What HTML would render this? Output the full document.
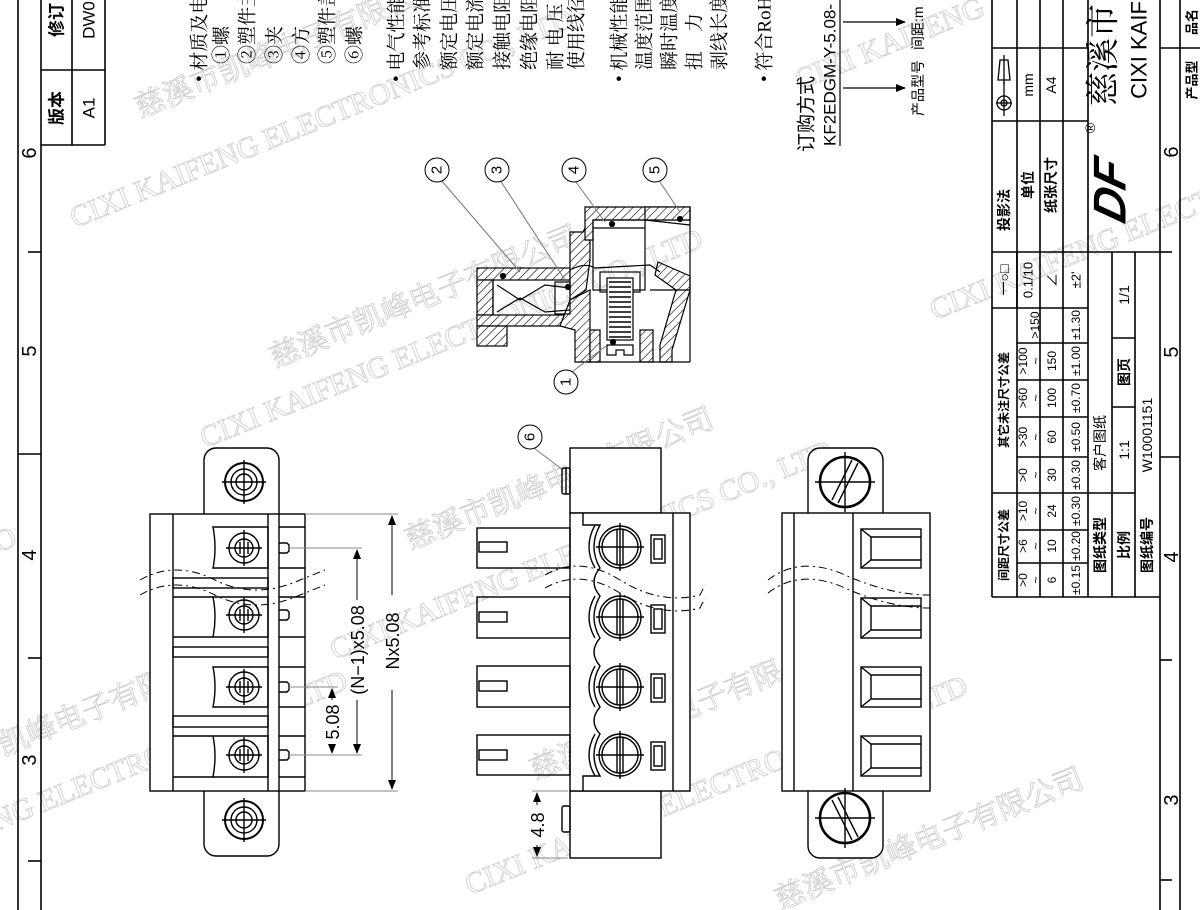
<!DOCTYPE html>
<html><head><meta charset="utf-8"><style>
html,body{margin:0;padding:0;background:#fff}
svg{display:block}
text{font-family:"Liberation Sans","Noto Sans CJK SC",sans-serif;fill:#000}
.s{font-family:"Liberation Serif","Noto Serif CJK SC",serif}
.wm{fill:none;stroke:#d2d2d2;stroke-width:0.9;font-size:30px;font-family:"Liberation Serif","Noto Serif CJK SC",serif}
</style></head><body>
<svg width="1200" height="910" viewBox="0 0 1200 910" xmlns="http://www.w3.org/2000/svg">
<defs>
<pattern id="h" width="6" height="6" patternUnits="userSpaceOnUse" patternTransform="rotate(45)">
<rect width="6" height="6" fill="#fff"/><line x1="0" y1="0" x2="0" y2="6" stroke="#000" stroke-width="1.2"/></pattern>
<marker id="ar" markerWidth="10" markerHeight="8" refX="9" refY="4" orient="auto" markerUnits="userSpaceOnUse"><path d="M0,0 L10,4 L0,8 z" fill="#000"/></marker>
</defs>

<!-- watermarks -->
<g>
<text class="wm" transform="translate(75,228) rotate(-22)">CIXI KAIFENG ELECTRONICS CO., LTD</text>
<text class="wm" transform="translate(140,118) rotate(-22)">慈溪市凯峰电子有限公司</text>
<text class="wm" transform="translate(275,368) rotate(-22)">慈溪市凯峰电子有限公司</text>
<text class="wm" transform="translate(205,448) rotate(-22)">CIXI KAIFENG ELECTRONICS CO., LTD</text>
<text class="wm" transform="translate(410,550) rotate(-22)">慈溪市凯峰电子有限公司</text>
<text class="wm" transform="translate(335,660) rotate(-22)">CIXI KAIFENG ELECTRONICS CO., LTD</text>
<text class="wm" transform="translate(535,780) rotate(-22)">慈溪市凯峰电子有限公司</text>
<text class="wm" transform="translate(470,895) rotate(-22)">CIXI KAIFENG ELECTRONICS CO., LTD</text>
<text class="wm" transform="translate(-150,890) rotate(-22)">CIXI KAIFENG ELECTRONICS CO., LTD</text>
<text class="wm" transform="translate(-80,790) rotate(-22)">慈溪市凯峰电子有限公司</text>
<text class="wm" transform="translate(935,320) rotate(-22)">CIXI KAIFENG ELECTRONICS</text>
<text class="wm" transform="translate(800,90) rotate(-22)">CIXI KAIFENG</text>
<text class="wm" transform="translate(780,910) rotate(-22)">慈溪市凯峰电子有限公司</text>
<text class="wm" transform="translate(-20,560) rotate(-22)">CO</text>
</g>

<!-- frame -->
<g stroke="#000" stroke-width="1.6" fill="none">
<line x1="18" y1="0" x2="18" y2="910"/>
<line x1="41" y1="0" x2="41" y2="910"/>
<line x1="18" y1="454" x2="41" y2="454"/>
<line x1="28" y1="252" x2="41" y2="252"/>
<line x1="28" y1="658" x2="41" y2="658"/>
<line x1="28" y1="861" x2="41" y2="861"/>
<line x1="1160" y1="0" x2="1160" y2="910"/>
<line x1="1180" y1="0" x2="1180" y2="910"/>
<line x1="1160" y1="48" x2="1180" y2="48"/>
<line x1="1160" y1="457" x2="1180" y2="457"/>
<line x1="1160" y1="252" x2="1172" y2="252"/>
<line x1="1160" y1="660" x2="1172" y2="660"/>
<line x1="1160" y1="880" x2="1172" y2="880"/>
<line x1="41" y1="145" x2="105" y2="145"/>
<line x1="72" y1="0" x2="72" y2="145"/>
<line x1="105" y1="0" x2="105" y2="145"/>
<line x1="41" y1="70" x2="105" y2="70"/>
</g>
<g font-size="20">
<text transform="translate(30,153) rotate(-90)" text-anchor="middle" dominant-baseline="central">6</text>
<text transform="translate(30,351) rotate(-90)" text-anchor="middle" dominant-baseline="central">5</text>
<text transform="translate(30,555) rotate(-90)" text-anchor="middle" dominant-baseline="central">4</text>
<text transform="translate(30,760) rotate(-90)" text-anchor="middle" dominant-baseline="central">3</text>
<text transform="translate(1172,152) rotate(-90)" text-anchor="middle" dominant-baseline="central">6</text>
<text transform="translate(1172,352) rotate(-90)" text-anchor="middle" dominant-baseline="central">5</text>
<text transform="translate(1172,557) rotate(-90)" text-anchor="middle" dominant-baseline="central">4</text>
<text transform="translate(1172,800) rotate(-90)" text-anchor="middle" dominant-baseline="central">3</text>
</g>
<g font-size="17">
<text transform="translate(57,108) rotate(-90)" text-anchor="middle" dominant-baseline="central" font-weight="bold">版本</text>
<text transform="translate(89,108) rotate(-90)" text-anchor="middle" dominant-baseline="central">A1</text>
<text transform="translate(57,20) rotate(-90)" text-anchor="middle" dominant-baseline="central" font-weight="bold">修订</text>
<text transform="translate(89,20) rotate(-90)" text-anchor="middle" dominant-baseline="central">DW0</text>
</g>

<!-- spec text -->
<g class="s" font-size="19">
<text class="s" transform="translate(200,82) rotate(-90)" dominant-baseline="central">• 材质及电</text>
<text class="s" transform="translate(222,64) rotate(-90)" dominant-baseline="central">①螺</text>
<text class="s" transform="translate(248,64) rotate(-90)" dominant-baseline="central">②塑件主</text>
<text class="s" transform="translate(275,64) rotate(-90)" dominant-baseline="central">③夹</text>
<text class="s" transform="translate(302,64) rotate(-90)" dominant-baseline="central">④方</text>
<text class="s" transform="translate(328,64) rotate(-90)" dominant-baseline="central">⑤塑件盖</text>
<text class="s" transform="translate(355,64) rotate(-90)" dominant-baseline="central">⑥螺</text>
<text class="s" transform="translate(397,82) rotate(-90)" dominant-baseline="central">• 电气性能</text>
<text class="s" transform="translate(423,70) rotate(-90)" dominant-baseline="central">参考标准</text>
<text class="s" transform="translate(450,70) rotate(-90)" dominant-baseline="central">额定电压</text>
<text class="s" transform="translate(476,70) rotate(-90)" dominant-baseline="central">额定电流</text>
<text class="s" transform="translate(503,70) rotate(-90)" dominant-baseline="central">接触电阻</text>
<text class="s" transform="translate(530,70) rotate(-90)" dominant-baseline="central">绝缘电阻</text>
<text class="s" transform="translate(556,70) rotate(-90)" dominant-baseline="central">耐 电 压</text>
<text class="s" transform="translate(577,70) rotate(-90)" dominant-baseline="central">使用线径</text>
<text class="s" transform="translate(620,82) rotate(-90)" dominant-baseline="central">• 机械性能</text>
<text class="s" transform="translate(645,70) rotate(-90)" dominant-baseline="central">温度范围</text>
<text class="s" transform="translate(670,70) rotate(-90)" dominant-baseline="central">瞬时温度</text>
<text class="s" transform="translate(695,70) rotate(-90)" dominant-baseline="central">扭　力</text>
<text class="s" transform="translate(720,70) rotate(-90)" dominant-baseline="central">剥线长度</text>
<text class="s" transform="translate(765,82) rotate(-90)" dominant-baseline="central">• 符合RoHS</text>
</g>
<text transform="translate(807,152) rotate(-90)" dominant-baseline="central" font-size="19">订购方式</text>
<text transform="translate(830,146) rotate(-90)" dominant-baseline="central" font-size="17">KF2EDGM-Y-5.08-</text>
<line x1="840" y1="0" x2="840" y2="146" stroke="#000" stroke-width="1.2"/>
<line x1="843" y1="88" x2="905" y2="88" stroke="#000" stroke-width="1.2" marker-end="url(#ar)"/>
<line x1="843" y1="22" x2="905" y2="22" stroke="#000" stroke-width="1.2" marker-end="url(#ar)"/>
<text transform="translate(918,116) rotate(-90)" dominant-baseline="central" font-size="14">产品型号</text>
<text transform="translate(918,50) rotate(-90)" dominant-baseline="central" font-size="14">间距:m</text>

<!-- title block -->
<g stroke="#000" stroke-width="1.6" fill="none">
<line x1="992" y1="0" x2="992" y2="597"/>
<line x1="1017" y1="0" x2="1017" y2="597"/>
<line x1="1040" y1="0" x2="1040" y2="597"/>
<line x1="1063" y1="0" x2="1063" y2="597"/>
<line x1="1088" y1="0" x2="1088" y2="597"/>
<line x1="1112" y1="252" x2="1112" y2="597"/>
<line x1="1135" y1="252" x2="1135" y2="597"/>
<line x1="992" y1="597" x2="1160" y2="597"/>
<line x1="992" y1="48" x2="1088" y2="48"/>
<line x1="992" y1="121" x2="1088" y2="121"/>
<line x1="992" y1="252" x2="1160" y2="252"/>
<line x1="992" y1="308" x2="1088" y2="308"/>
<line x1="1017" y1="252" x2="1017" y2="308"/>
<line x1="1017" y1="343" x2="1088" y2="343"/>
<line x1="1017" y1="380" x2="1088" y2="380"/>
<line x1="1017" y1="417" x2="1088" y2="417"/>
<line x1="1017" y1="457" x2="1088" y2="457"/>
<line x1="992" y1="493" x2="1135" y2="493"/>
<line x1="1017" y1="530" x2="1088" y2="530"/>
<line x1="1017" y1="563" x2="1088" y2="563"/>
<line x1="1112" y1="338" x2="1135" y2="338"/>
<line x1="1112" y1="407" x2="1135" y2="407"/>
<line x1="1180" y1="48" x2="1200" y2="48"/>
</g>
<g font-size="12">
<text transform="translate(1004,210) rotate(-90)" text-anchor="middle" dominant-baseline="central" font-weight="bold" font-size="14">投影法</text>
<text transform="translate(1028,185) rotate(-90)" text-anchor="middle" dominant-baseline="central" font-weight="bold" font-size="14">单位</text>
<text transform="translate(1051,185) rotate(-90)" text-anchor="middle" dominant-baseline="central" font-weight="bold" font-size="14">纸张尺寸</text>
<text transform="translate(1028,85) rotate(-90)" text-anchor="middle" dominant-baseline="central" font-size="14">mm</text>
<text transform="translate(1051,85) rotate(-90)" text-anchor="middle" dominant-baseline="central" font-size="14">A4</text>
<text transform="translate(1004,280) rotate(-90)" text-anchor="middle" dominant-baseline="central" font-size="14">一○□</text>
<text transform="translate(1028,280) rotate(-90)" text-anchor="middle" dominant-baseline="central" font-size="13">0.1/10</text>
<text transform="translate(1052,280) rotate(-90)" text-anchor="middle" dominant-baseline="central" font-size="14">∠</text>
<text transform="translate(1076,280) rotate(-90)" text-anchor="middle" dominant-baseline="central" font-size="13">±2'</text>
<text transform="translate(1004,400) rotate(-90)" text-anchor="middle" dominant-baseline="central" font-weight="bold">其它未注尺寸公差</text>
<text transform="translate(1004,545) rotate(-90)" text-anchor="middle" dominant-baseline="central" font-weight="bold">间距尺寸公差</text>
<text transform="translate(1035,325) rotate(-90)" text-anchor="middle" dominant-baseline="central">&gt;150</text>
<text transform="translate(1076,325) rotate(-90)" text-anchor="middle" dominant-baseline="central">±1.30</text>
<text transform="translate(1023,361) rotate(-90)" text-anchor="middle" dominant-baseline="central">&gt;100</text><text transform="translate(1036,361) rotate(-90)" text-anchor="middle" dominant-baseline="central">~</text><text transform="translate(1052,361) rotate(-90)" text-anchor="middle" dominant-baseline="central">150</text><text transform="translate(1076,361) rotate(-90)" text-anchor="middle" dominant-baseline="central">±1.00</text>
<text transform="translate(1023,398) rotate(-90)" text-anchor="middle" dominant-baseline="central">&gt;60</text><text transform="translate(1036,398) rotate(-90)" text-anchor="middle" dominant-baseline="central">~</text><text transform="translate(1052,398) rotate(-90)" text-anchor="middle" dominant-baseline="central">100</text><text transform="translate(1076,398) rotate(-90)" text-anchor="middle" dominant-baseline="central">±0.70</text>
<text transform="translate(1023,437) rotate(-90)" text-anchor="middle" dominant-baseline="central">&gt;30</text><text transform="translate(1036,437) rotate(-90)" text-anchor="middle" dominant-baseline="central">~</text><text transform="translate(1052,437) rotate(-90)" text-anchor="middle" dominant-baseline="central">60</text><text transform="translate(1076,437) rotate(-90)" text-anchor="middle" dominant-baseline="central">±0.50</text>
<text transform="translate(1023,475) rotate(-90)" text-anchor="middle" dominant-baseline="central">&gt;0</text><text transform="translate(1036,475) rotate(-90)" text-anchor="middle" dominant-baseline="central">~</text><text transform="translate(1052,475) rotate(-90)" text-anchor="middle" dominant-baseline="central">30</text><text transform="translate(1076,475) rotate(-90)" text-anchor="middle" dominant-baseline="central">±0.30</text>
<text transform="translate(1023,511) rotate(-90)" text-anchor="middle" dominant-baseline="central">&gt;10</text><text transform="translate(1036,511) rotate(-90)" text-anchor="middle" dominant-baseline="central">~</text><text transform="translate(1052,511) rotate(-90)" text-anchor="middle" dominant-baseline="central">24</text><text transform="translate(1076,511) rotate(-90)" text-anchor="middle" dominant-baseline="central">±0.30</text>
<text transform="translate(1023,546) rotate(-90)" text-anchor="middle" dominant-baseline="central">&gt;6</text><text transform="translate(1036,546) rotate(-90)" text-anchor="middle" dominant-baseline="central">~</text><text transform="translate(1052,546) rotate(-90)" text-anchor="middle" dominant-baseline="central">10</text><text transform="translate(1076,546) rotate(-90)" text-anchor="middle" dominant-baseline="central">±0.20</text>
<text transform="translate(1023,580) rotate(-90)" text-anchor="middle" dominant-baseline="central">&gt;0</text><text transform="translate(1036,580) rotate(-90)" text-anchor="middle" dominant-baseline="central">~</text><text transform="translate(1052,580) rotate(-90)" text-anchor="middle" dominant-baseline="central">6</text><text transform="translate(1076,580) rotate(-90)" text-anchor="middle" dominant-baseline="central">±0.15</text>
<text transform="translate(1100,545) rotate(-90)" text-anchor="middle" dominant-baseline="central" font-weight="bold" font-size="14">图纸类型</text>
<text transform="translate(1100,443) rotate(-90)" text-anchor="middle" dominant-baseline="central" font-size="14" fill="#777">客户图纸</text>
<text transform="translate(1124,545) rotate(-90)" text-anchor="middle" dominant-baseline="central" font-weight="bold" font-size="14">比例</text>
<text transform="translate(1124,450) rotate(-90)" text-anchor="middle" dominant-baseline="central" font-size="14">1:1</text>
<text transform="translate(1124,372) rotate(-90)" text-anchor="middle" dominant-baseline="central" font-weight="bold" font-size="14">图页</text>
<text transform="translate(1124,295) rotate(-90)" text-anchor="middle" dominant-baseline="central" font-size="14">1/1</text>
<text transform="translate(1147,545) rotate(-90)" text-anchor="middle" dominant-baseline="central" font-weight="bold" font-size="14">图纸编号</text>
<text transform="translate(1147,435) rotate(-90)" text-anchor="middle" dominant-baseline="central" font-size="14">W10001151</text>
<text transform="translate(1192,22) rotate(-90)" text-anchor="middle" dominant-baseline="central" font-weight="bold" font-size="13">品名</text>
<text transform="translate(1192,80) rotate(-90)" text-anchor="middle" dominant-baseline="central" font-weight="bold" font-size="13">产品型</text>
</g>
<g stroke="#000" stroke-width="1.3" fill="none">
<circle cx="1004" cy="103" r="7"/><circle cx="1004" cy="103" r="3"/>
<line x1="1004" y1="90" x2="1004" y2="116"/><line x1="996" y1="103" x2="1012" y2="103"/>
<line x1="1004" y1="82" x2="1004" y2="90"/>
<path d="M998,80 L1010,80 L1008,60 L1000,60 Z"/>
<line x1="1004" y1="55" x2="1004" y2="84"/>
</g>
<text transform="translate(1090,128) rotate(-90)" text-anchor="middle" dominant-baseline="central" font-size="14">®</text>
<text transform="translate(1110,190) rotate(-90) skewX(-15)" text-anchor="middle" dominant-baseline="central" font-size="46" font-weight="bold" font-style="italic">DF</text>
<text transform="translate(1104,55) rotate(-90)" text-anchor="middle" dominant-baseline="central" font-size="34" class="s">慈溪市</text>
<text transform="translate(1139,50) rotate(-90)" text-anchor="middle" dominant-baseline="central" font-size="22">CIXI KAIF</text>

<!-- cross-section -->
<g stroke="#000" stroke-width="1.2">
<rect x="477" y="268" width="93" height="12" fill="url(#h)"/>
<rect x="477" y="280" width="16" height="35" fill="url(#h)"/>
<rect x="477" y="315" width="105" height="11" fill="url(#h)"/>
<rect x="477" y="326" width="30" height="20" fill="url(#h)"/>
<path d="M570,280 L570,232 L583,232 L590,218 L590,260 L586,290 L570,300 Z" fill="url(#h)"/>
<path d="M585,207 L690,207 L690,220 L593,220 L593,240 L585,240 Z" fill="url(#h)"/>
<rect x="645" y="207" width="45" height="13" fill="url(#h)"/>
<path d="M570,300 L590,290 L590,362 L575,362 L575,330 L560,326 Z" fill="url(#h)"/>
<rect x="590" y="330" width="10" height="32" fill="url(#h)"/>
<rect x="640" y="330" width="13" height="32" fill="url(#h)"/>
<path d="M658,262 L690,276 L690,290 L672,350 L672,362 L660,362 L660,345 L676,290 L655,275 Z" fill="url(#h)"/>
<g fill="none">
<line x1="583" y1="362" x2="690" y2="362"/>
<line x1="690" y1="207" x2="690" y2="362"/>
<rect x="593" y="220" width="52" height="70"/>
<line x1="593" y1="228" x2="645" y2="228"/>
<rect x="600" y="272" width="40" height="20"/>
<rect x="607" y="278" width="26" height="62" fill="#fff"/>
<path d="M607,345 L633,345 L633,355 L624,355 L624,350 L616,350 L616,355 L607,355 Z"/>
<path d="M497,285 L520,300 L545,285 L570,288"/>
<path d="M497,312 L520,298 L545,312 L570,310"/>
<path d="M570,270 Q585,262 595,268 L650,265 L660,272"/>
<rect x="555" y="282" width="15" height="32"/>
<line x1="493" y1="280" x2="493" y2="315"/>
<line x1="645" y1="220" x2="690" y2="225"/>
<line x1="650" y1="290" x2="690" y2="290"/>
</g>
<g stroke-width="1.4">
<line x1="609" y1="282" x2="631" y2="282"/><line x1="609" y1="287" x2="631" y2="287"/><line x1="609" y1="292" x2="631" y2="292"/><line x1="609" y1="297" x2="631" y2="297"/><line x1="609" y1="302" x2="631" y2="302"/><line x1="609" y1="307" x2="631" y2="307"/><line x1="609" y1="312" x2="631" y2="312"/><line x1="609" y1="317" x2="631" y2="317"/><line x1="609" y1="322" x2="631" y2="322"/><line x1="609" y1="327" x2="631" y2="327"/><line x1="609" y1="332" x2="631" y2="332"/><line x1="609" y1="337" x2="631" y2="337"/>
</g>
<circle cx="503" cy="276" r="2.5" fill="#000"/><circle cx="568" cy="287" r="2.5" fill="#000"/><circle cx="612" cy="224" r="2.5" fill="#000"/><circle cx="680" cy="219" r="2.5" fill="#000"/><circle cx="613" cy="342" r="2.5" fill="#000"/>
</g>
<g stroke="#000" stroke-width="1" fill="#fff">
<line x1="441" y1="180" x2="520" y2="272" stroke="#777"/>
<line x1="500" y1="180" x2="565" y2="280" stroke="#777"/>
<line x1="576" y1="182" x2="605" y2="222" stroke="#777"/>
<line x1="660" y1="182" x2="680" y2="212" stroke="#777"/>
<line x1="572" y1="372" x2="606" y2="346" stroke="#777"/>
<line x1="534" y1="448" x2="563" y2="470" stroke="#777"/>
<circle cx="437" cy="170" r="12"/><circle cx="497" cy="170" r="12"/><circle cx="574" cy="170" r="12"/><circle cx="655" cy="170" r="12"/><circle cx="566" cy="382" r="12"/><circle cx="530" cy="437" r="12"/>
</g>
<g font-size="15">
<text transform="translate(437,170) rotate(-90)" text-anchor="middle" dominant-baseline="central">2</text>
<text transform="translate(497,170) rotate(-90)" text-anchor="middle" dominant-baseline="central">3</text>
<text transform="translate(574,170) rotate(-90)" text-anchor="middle" dominant-baseline="central">4</text>
<text transform="translate(655,170) rotate(-90)" text-anchor="middle" dominant-baseline="central">5</text>
<text transform="translate(566,382) rotate(-90)" text-anchor="middle" dominant-baseline="central">1</text>
<text transform="translate(530,437) rotate(-90)" text-anchor="middle" dominant-baseline="central">6</text>
</g>

<!-- LEFT connector -->
<g stroke="#000" stroke-width="1.4" fill="none">
<rect x="204" y="448" width="75" height="408" rx="12" fill="#fff"/>
<rect x="150" y="514" width="155" height="277" fill="#fff"/>
<line x1="173" y1="514" x2="173" y2="791"/>
<line x1="268" y1="514" x2="268" y2="791"/>
<line x1="279" y1="514" x2="279" y2="791"/>
<g>
<path d="M213,527 L268,527 L268,568 L213,568 Q217,548 213,527 Z"/>
<path d="M213,597 L268,597 L268,637 L213,637 Q217,617 213,597 Z"/>
<path d="M213,667 L268,667 L268,707 L213,707 Q217,687 213,667 Z"/>
<path d="M213,736 L268,736 L268,777 L213,777 Q217,756 213,736 Z"/>
<line x1="173" y1="597" x2="213" y2="597"/><line x1="173" y1="637" x2="213" y2="637"/>
<line x1="173" y1="736" x2="213" y2="736"/><line x1="173" y1="777" x2="213" y2="777"/>
<rect x="173" y="578" width="95" height="10"/><rect x="173" y="647" width="95" height="10"/><rect x="173" y="716" width="95" height="11"/>
<line x1="279" y1="527" x2="305" y2="527"/><line x1="279" y1="568" x2="305" y2="568"/>
<line x1="279" y1="597" x2="305" y2="597"/><line x1="279" y1="637" x2="305" y2="637"/>
<line x1="279" y1="667" x2="305" y2="667"/><line x1="279" y1="707" x2="305" y2="707"/>
<line x1="279" y1="736" x2="305" y2="736"/><line x1="279" y1="777" x2="305" y2="777"/>
<path d="M279,543 L287,543 L289,545 L289,551 L287,553 L279,553"/>
<path d="M279,610 L287,610 L289,612 L289,618 L287,620 L279,620"/>
<path d="M279,682 L287,682 L289,684 L289,690 L287,692 L279,692"/>
<path d="M279,750 L287,750 L289,752 L289,758 L287,760 L279,760"/>
</g>
<g>
<circle cx="244" cy="548" r="15"/><circle cx="244" cy="548" r="9"/><line x1="226" y1="548" x2="262" y2="548"/><line x1="244" y1="530" x2="244" y2="566"/><line x1="240" y1="542" x2="240" y2="554"/><line x1="248" y1="542" x2="248" y2="554"/>
<circle cx="244" cy="615" r="15"/><circle cx="244" cy="615" r="9"/><line x1="226" y1="615" x2="262" y2="615"/><line x1="244" y1="597" x2="244" y2="633"/><line x1="240" y1="609" x2="240" y2="621"/><line x1="248" y1="609" x2="248" y2="621"/>
<circle cx="244" cy="687" r="15"/><circle cx="244" cy="687" r="9"/><line x1="226" y1="687" x2="262" y2="687"/><line x1="244" y1="669" x2="244" y2="705"/><line x1="240" y1="681" x2="240" y2="693"/><line x1="248" y1="681" x2="248" y2="693"/>
<circle cx="244" cy="755" r="15"/><circle cx="244" cy="755" r="9"/><line x1="226" y1="755" x2="262" y2="755"/><line x1="244" y1="737" x2="244" y2="773"/><line x1="240" y1="749" x2="240" y2="761"/><line x1="248" y1="749" x2="248" y2="761"/>
<circle cx="244" cy="482" r="19" stroke-width="2"/><circle cx="244" cy="482" r="13"/><circle cx="244" cy="482" r="8"/><line x1="222" y1="482" x2="266" y2="482"/><line x1="244" y1="460" x2="244" y2="504"/>
<circle cx="244" cy="820" r="19" stroke-width="2"/><circle cx="244" cy="820" r="13"/><circle cx="244" cy="820" r="8"/><line x1="222" y1="820" x2="266" y2="820"/><line x1="244" y1="798" x2="244" y2="842"/>
</g>
<path d="M140,580 Q175,560 215,580 T300,580 L325,570" stroke-dasharray="8,4,2,4" stroke-width="1"/>
<path d="M140,595 Q175,575 215,595 T300,595 L325,585" stroke-dasharray="8,4,2,4" stroke-width="1"/>
</g>
<g stroke="#888" stroke-width="1" fill="none">
<line x1="305" y1="514" x2="398" y2="514"/><line x1="305" y1="791" x2="398" y2="791"/>
<line x1="289" y1="548" x2="362" y2="548"/><line x1="289" y1="755" x2="362" y2="755"/>
<line x1="289" y1="687" x2="338" y2="687"/>
</g>
<g stroke="#000" stroke-width="1">
<line x1="392" y1="595" x2="392" y2="516" marker-end="url(#ar)"/>
<line x1="392" y1="690" x2="392" y2="789" marker-end="url(#ar)"/>
<line x1="357" y1="600" x2="357" y2="550" marker-end="url(#ar)"/>
<line x1="357" y1="700" x2="357" y2="753" marker-end="url(#ar)"/>
<line x1="332" y1="700" x2="332" y2="689" marker-end="url(#ar)"/>
<line x1="332" y1="745" x2="332" y2="753" marker-end="url(#ar)"/>
</g>
<g font-size="18">
<text transform="translate(393,641) rotate(-90)" text-anchor="middle" dominant-baseline="central">Nx5.08</text>
<text transform="translate(358,650) rotate(-90)" text-anchor="middle" dominant-baseline="central">(N−1)x5.08</text>
<text transform="translate(333,722) rotate(-90)" text-anchor="middle" dominant-baseline="central">5.08</text>
</g>

<!-- MIDDLE connector -->
<g stroke="#000" stroke-width="1.4" fill="none">
<rect x="570" y="448" width="91" height="65" fill="#fff"/>
<rect x="570" y="791" width="91" height="67" fill="#fff"/>
<rect x="570" y="513" width="120" height="278" fill="#fff"/>
<line x1="673" y1="513" x2="673" y2="791"/>
<rect x="562" y="468" width="8" height="26" rx="2"/><line x1="566" y1="468" x2="566" y2="494"/>
<rect x="562" y="806" width="8" height="26" rx="2"/>
<rect x="477" y="528" width="93" height="40"/><rect x="479" y="542" width="28" height="10"/>
<rect x="477" y="597" width="93" height="41"/><rect x="479" y="612" width="28" height="10"/>
<rect x="477" y="666" width="93" height="41"/><rect x="479" y="681" width="28" height="10"/>
<rect x="477" y="735" width="93" height="40"/><rect x="479" y="750" width="28" height="10"/>
<path d="M583,513 L583,525 L600,525 Q588,547 600,568 Q588,582 600,596 Q588,617 600,638 Q588,652 600,666 Q588,687 600,707 Q588,721 600,734 Q588,755 600,776 L583,776 L583,791"/>
<path d="M595,525 Q583,547 595,568"/><path d="M595,596 Q583,617 595,638"/><path d="M595,666 Q583,687 595,707"/><path d="M595,734 Q583,755 595,776"/>
<g>
<circle cx="620" cy="547" r="21"/><circle cx="620" cy="547" r="18"/><line x1="596" y1="547" x2="644" y2="547"/><line x1="620" y1="523" x2="620" y2="571"/><line x1="617" y1="530" x2="617" y2="564"/><line x1="623" y1="530" x2="623" y2="564"/>
<circle cx="620" cy="617" r="21"/><circle cx="620" cy="617" r="18"/><line x1="596" y1="617" x2="644" y2="617"/><line x1="620" y1="593" x2="620" y2="641"/><line x1="617" y1="600" x2="617" y2="634"/><line x1="623" y1="600" x2="623" y2="634"/>
<circle cx="620" cy="687" r="21"/><circle cx="620" cy="687" r="18"/><line x1="596" y1="687" x2="644" y2="687"/><line x1="620" y1="663" x2="620" y2="711"/><line x1="617" y1="670" x2="617" y2="704"/><line x1="623" y1="670" x2="623" y2="704"/>
<circle cx="620" cy="755" r="21"/><circle cx="620" cy="755" r="18"/><line x1="596" y1="755" x2="644" y2="755"/><line x1="620" y1="731" x2="620" y2="779"/><line x1="617" y1="738" x2="617" y2="772"/><line x1="623" y1="738" x2="623" y2="772"/>
</g>
<rect x="651" y="535" width="14" height="28"/><rect x="654" y="539" width="8" height="20"/>
<rect x="651" y="605" width="14" height="28"/><rect x="654" y="609" width="8" height="20"/>
<rect x="651" y="674" width="14" height="28"/><rect x="654" y="678" width="8" height="20"/>
<rect x="651" y="742" width="14" height="28"/><rect x="654" y="746" width="8" height="20"/>
<path d="M545,575 Q580,555 620,580 T700,595 L705,585" stroke-dasharray="8,4,2,4" stroke-width="1"/>
<path d="M545,588 Q580,568 620,593 T700,608 L705,598" stroke-dasharray="8,4,2,4" stroke-width="1"/>
</g>
<g stroke="#888" stroke-width="1"><line x1="532" y1="791" x2="568" y2="791"/><line x1="532" y1="858" x2="568" y2="858"/></g>
<g stroke="#000" stroke-width="1">
<line x1="537" y1="805" x2="537" y2="793" marker-end="url(#ar)"/>
<line x1="537" y1="845" x2="537" y2="856" marker-end="url(#ar)"/>
</g>
<text transform="translate(538,825) rotate(-90)" text-anchor="middle" dominant-baseline="central" font-size="18">4.8</text>

<!-- RIGHT connector -->
<g stroke="#000" stroke-width="1.4" fill="none">
<rect x="808" y="448" width="75" height="410" rx="12" fill="#fff"/>
<rect x="782" y="513" width="148" height="278" fill="#fff"/>
<line x1="794" y1="513" x2="794" y2="791"/>
<line x1="853" y1="513" x2="853" y2="791"/>
<g>
<rect x="861" y="529" width="60" height="39"/><path d="M861,529 L871,537 L921,537 M861,568 L871,560 L921,560 M871,537 L871,560"/>
<rect x="861" y="598" width="60" height="40"/><path d="M861,598 L871,606 L921,606 M861,638 L871,630 L921,630 M871,606 L871,630"/>
<rect x="861" y="667" width="60" height="40"/><path d="M861,667 L871,675 L921,675 M861,707 L871,699 L921,699 M871,675 L871,699"/>
<rect x="861" y="736" width="60" height="40"/><path d="M861,736 L871,744 L921,744 M861,776 L871,768 L921,768 M871,744 L871,768"/>
</g>
<circle cx="845" cy="482" r="25" stroke-width="2.6"/><line x1="815" y1="482" x2="875" y2="482"/><line x1="845" y1="452" x2="845" y2="512"/>
<line x1="832" y1="500" x2="852" y2="460" stroke-width="1.4"/><line x1="838" y1="503" x2="858" y2="463" stroke-width="1.4"/>
<circle cx="845" cy="818" r="25" stroke-width="2.6"/><line x1="815" y1="818" x2="875" y2="818"/><line x1="845" y1="788" x2="845" y2="848"/>
<line x1="832" y1="800" x2="852" y2="840" stroke-width="1.4"/><line x1="838" y1="797" x2="858" y2="837" stroke-width="1.4"/>
<path d="M768,580 Q800,555 845,575 T930,595" stroke-dasharray="8,4,2,4" stroke-width="1"/>
<path d="M768,593 Q800,568 845,588 T930,608" stroke-dasharray="8,4,2,4" stroke-width="1"/>
</g>
</svg>
</body></html>
